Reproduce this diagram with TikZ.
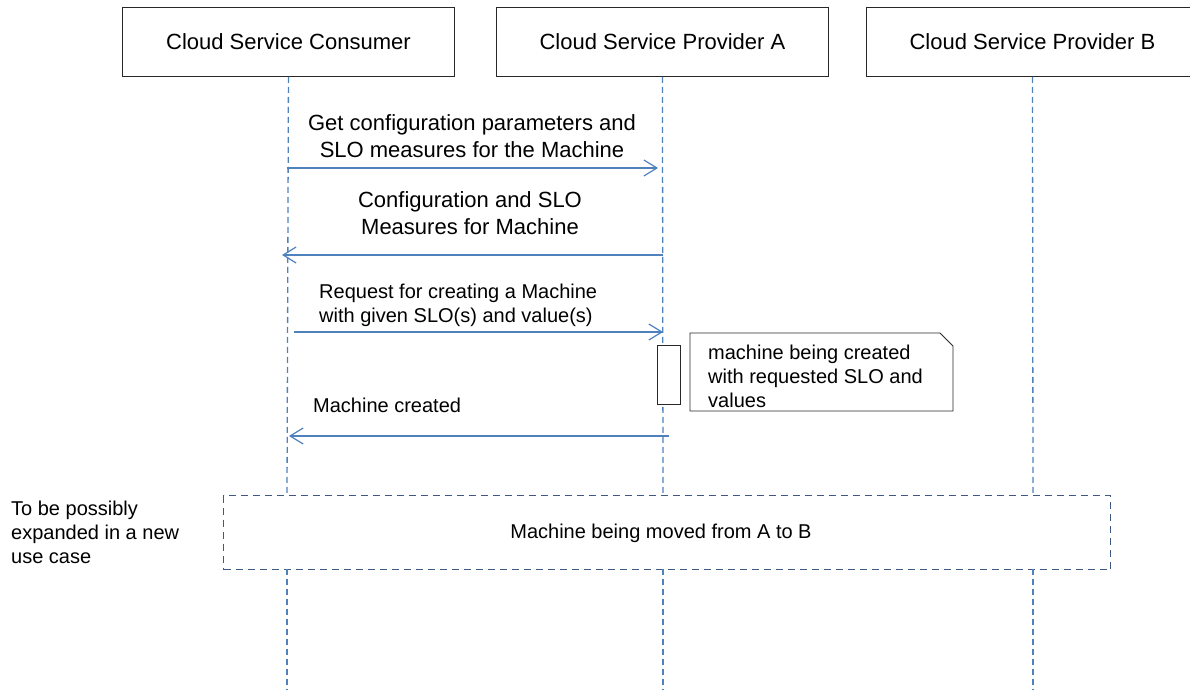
\documentclass[tikz,border=0pt]{standalone}
\usepackage{fontspec}
\setmainfont{Liberation Sans}
\usetikzlibrary{arrows.meta}
\definecolor{life}{RGB}{79,129,189}
\definecolor{framec}{RGB}{62,90,130}
\definecolor{boxc}{RGB}{40,40,40}
\begin{document}
\begin{tikzpicture}[x=1pt,y=-1pt,
  head/.style={draw=boxc, line width=0.9pt, minimum width=332pt, minimum height=69pt, inner sep=0pt, anchor=north west, font=\fontsize{22}{26}\selectfont},
  lifeline/.style={draw=life, line width=1.3pt, dash pattern=on 6pt off 4pt},
  msg/.style={draw=life, line width=1.2pt, -{Straight Barb[length=13pt,width=16pt]}},
  lbl/.style={inner sep=0pt, align=center, font=\fontsize{22}{27}\selectfont},
  lbls/.style={inner sep=0pt, align=left, font=\fontsize{20}{24}\selectfont},
  framebox/.style={draw=framec, line width=1.3pt, dash pattern=on 7pt off 5pt},
  actbox/.style={draw=boxc, line width=0.9pt, fill=white}
]
\clip (0,0) rectangle (1190,690);
\useasboundingbox (0,0) rectangle (1190,690);

% headers
\node[head] (cons) at (122,7) {Cloud Service Consumer};
\node[head] (pa) at (496,7) {Cloud Service Provider A};
\node[head] (pb) at (866,7) {Cloud Service Provider B};

% frame
\node[framebox, minimum width=887pt, minimum height=74pt, inner sep=0pt, anchor=north west] (frm) at (223,495) {};
\node[lbls, anchor=base] (frmtxt) at (661,538) {Machine being moved from A to B};

% lifeline coordinates
\coordinate (c1) at (287,495);
\coordinate (c2) at (287,569);
\coordinate (c3) at (287,690);
\coordinate (a1) at (663,495);
\coordinate (a2) at (663,569);
\coordinate (a3) at (663,690);
\coordinate (b1) at (1033,495);
\coordinate (b2) at (1033,569);
\coordinate (b3) at (1033,690);

\draw[lifeline] (cons.south) -- (c1);
\draw[lifeline] (c2) -- (c3);
\draw[lifeline] (pa.south) -- (a1);
\draw[lifeline] (a2) -- (a3);
\draw[lifeline] (pb.south) -- (b1);
\draw[lifeline] (b2) -- (b3);

% messages
\coordinate (m1s) at (287,168); \coordinate (m1e) at (658,168);
\coordinate (m2s) at (663,255); \coordinate (m2e) at (282,255);
\coordinate (m3s) at (294,332); \coordinate (m3e) at (663,332);
\coordinate (m4s) at (669,436); \coordinate (m4e) at (289,436);

\draw[msg] (m1s) -- (m1e);
\node[lbl] (t1) at (472,136) {Get configuration parameters and\\SLO measures for the Machine};
\draw[msg] (m2s) -- (m2e);
\node[lbl] (t2) at (470,213) {Configuration and SLO\\Measures for Machine};
\draw[msg] (m3s) -- (m3e);
\node[lbls, anchor=west] (t3) at (319,305) {Request for creating a Machine\\with given SLO(s) and value(s)};
\draw[msg] (m4s) -- (m4e);
\node[lbls, anchor=base west] (t4) at (313,412) {Machine created};

% activation
\node[actbox, minimum width=23pt, minimum height=59pt, inner sep=0pt, anchor=north west] (act) at (657,345) {};

% note
\draw[boxc, line width=0.9pt, fill=white] (690,333) -- (940,333) -- (953,346) -- (953,411) -- (690,411) -- cycle;
\node[lbls, anchor=west] (note) at (708,376) {machine being created\\with requested SLO and\\values};

% side text
\node[lbls, anchor=west] (side) at (11,532) {To be possibly\\expanded in a new\\use case};
\end{tikzpicture}
\end{document}
